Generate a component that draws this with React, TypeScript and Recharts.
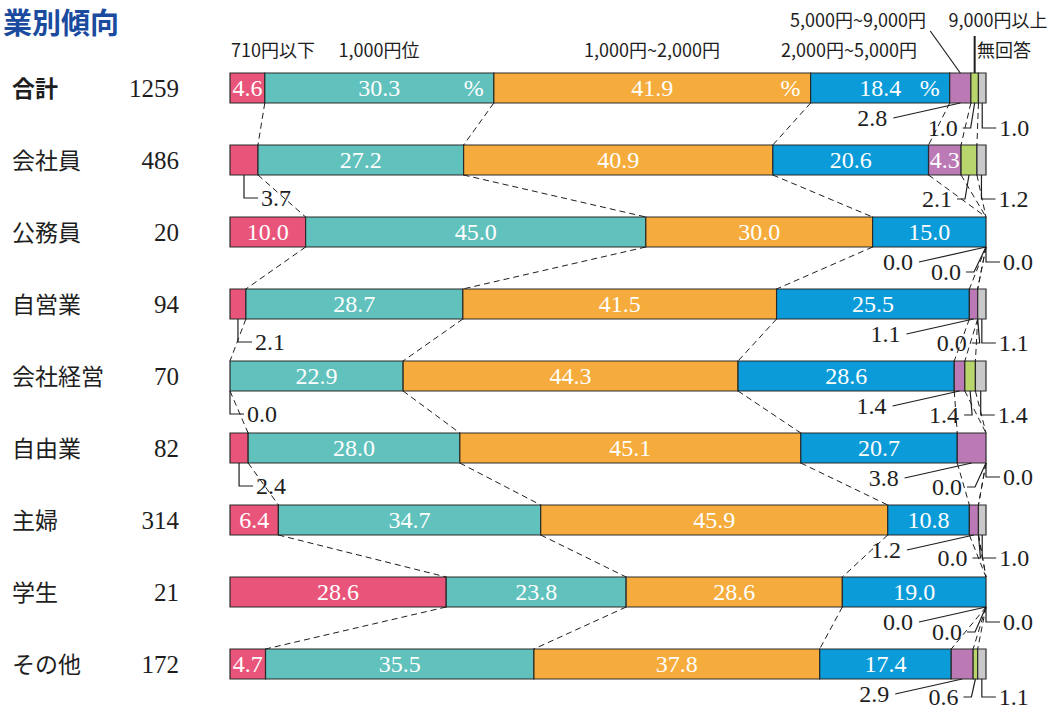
import React from 'react';
import { BarChart, Bar, XAxis, YAxis, LabelList, ReferenceLine } from 'recharts';

// ---------- data ----------
const categories = ['合計', '会社員', '公務員', '自営業', '会社経営', '自由業', '主婦', '学生', 'その他'];
const counts = [1259, 486, 20, 94, 70, 82, 314, 21, 172];
const seriesNames = ['710円以下', '1,000円位', '1,000円~2,000円', '2,000円~5,000円', '5,000円~9,000円', '9,000円以上', '無回答'];
const under710 = [4.6, 3.7, 10.0, 2.1, 0.0, 2.4, 6.4, 28.6, 4.7];
const about1000 = [30.3, 27.2, 45.0, 28.7, 22.9, 28.0, 34.7, 23.8, 35.5];
const from1000to2000 = [41.9, 40.9, 30.0, 41.5, 44.3, 45.1, 45.9, 28.6, 37.8];
const from2000to5000 = [18.4, 20.6, 15.0, 25.5, 28.6, 20.7, 10.8, 19.0, 17.4];
const from5000to9000 = [2.8, 4.3, 0.0, 1.1, 1.4, 3.8, 1.2, 0.0, 2.9];
const over9000 = [1.0, 2.1, 0.0, 0.0, 1.4, 0.0, 0.0, 0.0, 0.6];
const noAnswer = [1.0, 1.2, 0.0, 1.1, 1.4, 0.0, 1.0, 0.0, 1.1];

const seriesValues = [under710, about1000, from1000to2000, from2000to5000, from5000to9000, over9000, noAnswer];
const seriesKeys = ['s0', 's1', 's2', 's3', 's4', 's5', 's6'];

// ---------- styles / layout ----------
const colors = ['#E9557A', '#61C1BC', '#F5AC3C', '#0A9BD8', '#BB7AB5', '#B8D66B', '#C9C9C9'];
const SERIF = "'Liberation Serif', 'DejaVu Serif', serif";
const SANS = "'Noto Sans CJK JP', 'Noto Sans', sans-serif";
const INK = '#1e1e1e';
const BAR = 30;
const HALF = BAR / 2;

// label offsets for the small segments (relative to segment bottom centre)
const greenLabelDx = [-32, -32, -40, -26, -26, -39, -26, -39, -32];
const greenLabelDy = [25, 24, 25, 24, 24, 24, 23, 25, 18];
const grayLabelDy = [25, 24, 15, 24, 24, 14, 23, 15, 18];
const headerLabels = [
  { x: 273, y: 51 },
  { x: 379, y: 51 },
  { x: 652, y: 51 },
  { x: 849, y: 51 },
  { x: 858, y: 21 },
  { x: 998, y: 21 },
  { x: 1004, y: 51 },
];

const data = categories.map((name, i) => {
  const row: Record<string, any> = { name, count: counts[i] };
  seriesValues.forEach((vals, k) => {
    row[seriesKeys[k]] = vals[i];
  });
  return row;
});

// cumulative positions: starts[k][i] is where series k begins in row i
const starts = seriesValues.map((_, k) =>
  categories.map((__, i) => seriesValues.slice(0, k).reduce((s, vals) => s + vals[i], 0))
);
const boundaries = starts.slice(1); // after series 0..5

const isInside = (k: number, v: number) => k === 1 || k === 2 || k === 3 || ((k === 0 || k === 4) && v >= 4);

const fmt = (v: number) => v.toFixed(1);

const DashedConnector = (p: any) => (
  <line x1={p.x1} y1={p.y1 + HALF} x2={p.x2} y2={p.y2 - HALF} stroke={INK} strokeWidth={1} strokeDasharray="6 4" />
);

const ValueText = ({ x, y, children, color = INK }: any) => (
  <text x={x} y={y} dy="0.34em" textAnchor="middle" fontFamily={SERIF} fontSize={24} fill={color}>
    {children}
  </text>
);

// inside labels (drawn with the bars)
const makeInsideLabel = (k: number) => (props: any) => {
  const vb = props.viewBox || {};
  const x = Number(props.x ?? vb.x);
  const y = Number(props.y ?? vb.y);
  const w = Number(props.width ?? vb.width ?? 0);
  const h = Number(props.height ?? vb.height ?? BAR);
  const v = Number(props.value);
  if (!Number.isFinite(x) || !Number.isFinite(y) || !isInside(k, v)) return null;
  const cx = x + w / 2;
  const cy = y + h / 2;
  const showPct = (k === 1 || k === 2 || k === 3) && props.index === 0;
  return (
    <g>
      <ValueText x={cx} y={cy} color="#ffffff">
        {fmt(v)}
      </ValueText>
      {showPct && (
        <ValueText x={x + w - 20} y={cy} color="#ffffff">
          %
        </ValueText>
      )}
    </g>
  );
};

// outside labels with leader lines; x1/x2 are the segment's ends, y1 the row centre
const makeOutsideLabel = (k: number, i: number) => (p: any) => {
  const v = seriesValues[k][i];
  const cx = (p.x1 + p.x2) / 2;
  const bottom = p.y1 + HALF;
  let tx = 0;
  let ty = 0;
  let leader: React.ReactNode = null;
  if (k === 0) {
    tx = cx + 32;
    ty = bottom + 23;
    leader = <polyline points={`${cx},${bottom} ${cx},${ty} ${tx - 18},${ty}`} fill="none" stroke={INK} strokeWidth={1.2} />;
  } else if (k === 4) {
    tx = cx - 88;
    ty = bottom + 15;
    leader = <line x1={tx + 21} y1={ty} x2={cx} y2={bottom} stroke={INK} strokeWidth={1.2} />;
  } else if (k === 5) {
    tx = cx + greenLabelDx[i];
    ty = bottom + greenLabelDy[i];
    leader = <polyline points={`${tx + 20},${ty} ${tx + 28},${ty} ${cx},${bottom}`} fill="none" stroke={INK} strokeWidth={1.2} />;
  } else {
    tx = cx + 32;
    ty = bottom + grayLabelDy[i];
    leader = <polyline points={`${cx},${bottom} ${cx},${ty} ${tx - 18},${ty}`} fill="none" stroke={INK} strokeWidth={1.2} />;
  }
  return (
    <g>
      {leader}
      <ValueText x={tx} y={ty}>{fmt(v)}</ValueText>
    </g>
  );
};

// header leaders from the first row's small segments
const makeHeaderLeader = (k: number) => (p: any) => {
  const cx = (p.x1 + p.x2) / 2;
  const top = p.y1 - HALF;
  return k === 4 ? (
    <line x1={cx} y1={top} x2={cx - 30} y2={top - 42} stroke={INK} strokeWidth={1.2} />
  ) : (
    <line x1={cx} y1={top} x2={cx} y2={top - 37} stroke={INK} strokeWidth={2} />
  );
};

const outsideItems: { k: number; i: number }[] = [];
seriesValues.forEach((vals, k) =>
  vals.forEach((v, i) => {
    if (!isInside(k, v)) outsideItems.push({ k, i });
  })
);

const LeftTick = (props: any) => {
  const { y, payload } = props;
  const i = categories.indexOf(payload.value);
  return (
    <g>
      <text x={12} y={y} dy="0.38em" fontFamily={SANS} fontSize={23} fontWeight={i === 0 ? 700 : 400} fill={INK}>
        {payload.value}
      </text>
      <text x={179} y={y} dy="0.34em" textAnchor="end" fontFamily={SERIF} fontSize={25} fill={INK}>
        {counts[i]}
      </text>
    </g>
  );
};

const segmentOf = (k: number, i: number) => [
  { x: starts[k][i], y: categories[i] },
  { x: starts[k][i] + seriesValues[k][i], y: categories[i] },
];

export default function App() {
  return (
    <div style={{ position: 'absolute', left: 0, top: 0, width: 1056, height: 711, background: '#fff', overflow: 'hidden' }}>
      <BarChart
        width={1056}
        height={711}
        data={data}
        layout="vertical"
        barSize={BAR}
        margin={{ top: 52, right: 70, bottom: 11, left: 0 }}
      >
        <XAxis type="number" domain={[0, 100]} hide />
        <YAxis type="category" dataKey="name" width={230} axisLine={false} tickLine={false} tick={<LeftTick />} interval={0} />
        {seriesKeys.map((key, k) => (
          <Bar
            key={key}
            dataKey={key}
            name={seriesNames[k]}
            stackId="a"
            fill={colors[k]}
            stroke="#2a2a2a"
            strokeWidth={1.2}
            isAnimationActive={false}
          >
            <LabelList dataKey={key} content={makeInsideLabel(k)} />
          </Bar>
        ))}
        {boundaries.flatMap((cum, k) =>
          categories.slice(0, -1).map((c, i) => (
            <ReferenceLine
              key={`c${k}-${i}`}
              segment={[
                { x: cum[i], y: c },
                { x: cum[i + 1], y: categories[i + 1] },
              ]}
              ifOverflow="visible"
              shape={DashedConnector}
            />
          ))
        )}
        {outsideItems.map(({ k, i }) => (
          <ReferenceLine key={`o${k}-${i}`} segment={segmentOf(k, i)} ifOverflow="visible" shape={makeOutsideLabel(k, i)} />
        ))}
        <ReferenceLine segment={segmentOf(4, 0)} ifOverflow="visible" shape={makeHeaderLeader(4)} />
        <ReferenceLine segment={segmentOf(5, 0)} ifOverflow="visible" shape={makeHeaderLeader(5)} />
      </BarChart>
      <svg width={1056} height={711} style={{ position: 'absolute', left: 0, top: 0, pointerEvents: 'none' }}>
        <text x={3} y={34} fontFamily={SANS} fontSize={29} fontWeight={700} fill="#1A4B9F">
          業別傾向
        </text>
        {seriesNames.map((n, k) => (
          <text
            key={n}
            x={headerLabels[k].x}
            y={headerLabels[k].y}
            dy="0.36em"
            textAnchor="middle"
            fontFamily={SANS}
            fontSize={18}
            fill={INK}
          >
            {n}
          </text>
        ))}
      </svg>
    </div>
  );
}
